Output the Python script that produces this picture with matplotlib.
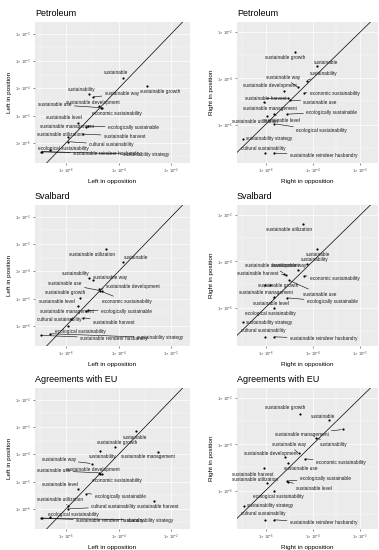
import matplotlib
matplotlib.use("Agg")
import matplotlib.pyplot as plt
from matplotlib.ticker import NullFormatter
import numpy as np

# terms shown in every panel (same order in every data list below)
TERMS = [
    "sustainable", "sustainable growth", "sustainability", "sustainable way",
    "sustainable use", "sustainable development", "economic sustainability",
    "sustainable level", "sustainable management", "ecologically sustainable",
    "sustainable utilization", "sustainable harvest", "cultural sustainability",
    "ecological sustainability", "sustainable reindeer husbandry",
    "sustainability strategy",
]

# log10 relative frequencies
petro_left_x = [-3.82, -2.92, -5.11, -4.99, -4.68, -4.75, -4.63, -5.56, -5.24, -5.15, -5.91, -5.34, -5.91, -6.61, -6.96, -6.93]
petro_left_y = [-3.62, -3.90, -4.22, -4.32, -4.71, -4.66, -4.74, -5.27, -5.41, -5.39, -5.78, -5.68, -5.96, -6.27, -6.33, -6.32]
petro_right_x = [-3.80, -4.73, -4.25, -4.61, -4.96, -5.21, -4.38, -5.62, -6.06, -5.10, -5.92, -5.03, -6.04, -5.62, -5.66, -6.96]
petro_right_y = [-3.47, -2.85, -4.09, -4.39, -4.94, -4.53, -4.62, -5.54, -5.01, -5.55, -5.65, -4.86, -7.24, -5.97, -7.24, -6.62]

sval_left_x = [-3.82, -5.47, -5.11, -4.99, -4.71, -4.75, -4.65, -5.56, -5.24, -5.15, -4.48, -5.37, -5.82, -5.91, -6.96, -6.61]
sval_left_y = [-3.65, -4.99, -4.23, -4.32, -4.71, -4.66, -4.74, -5.29, -5.44, -5.43, -3.18, -5.70, -5.76, -6.00, -6.35, -6.29]
sval_right_x = [-3.80, -5.80, -4.25, -4.63, -5.00, -5.21, -4.38, -5.62, -6.04, -5.08, -4.42, -5.13, -6.04, -5.62, -5.66, -6.96]
sval_right_y = [-3.47, -5.04, -4.10, -4.39, -4.82, -4.53, -4.62, -5.54, -5.04, -5.58, -2.37, -4.58, -7.27, -6.01, -7.27, -6.63]

eu_left_x = [-3.34, -4.14, -4.71, -5.03, -4.73, -4.71, -4.65, -5.53, -2.49, -5.24, -5.91, -2.65, -5.91, -6.61, -6.96, -6.92]
eu_left_y = [-3.16, -3.73, -3.87, -4.34, -4.68, -4.71, -4.74, -5.29, -3.91, -5.44, -5.90, -5.71, -6.00, -6.29, -6.35, -6.34]
eu_right_x = [-3.30, -4.52, -3.85, -4.59, -5.03, -5.19, -4.34, -5.04, -2.73, -5.08, -5.92, -6.06, -6.04, -5.62, -5.66, -6.93]
eu_right_y = [-2.96, -2.66, -3.71, -4.39, -4.79, -4.53, -4.62, -5.63, -3.35, -5.58, -5.68, -5.04, -7.27, -6.04, -7.27, -6.66]

# label placement (pixel offsets from the point, like ggrepel's result)
petro_left_nudge = [(-7, 5), (13, -6), (-8, 5), (29, 3), (-46, 3), (-6, 4), (15, -5), (-14, 5),
                    (-19, 0), (45, -1), (-8, 2), (41, -2), (43, -3), (13, 2), (66, -2), (105, -3)]
petro_right_nudge = [(9, 4), (-10, -6), (17, 7), (-15, 10), (30, -2), (-14, 5), (31, -1), (7, -7),
                     (6, -7), (45, 2), (-12, -5), (-23, 0), (-1, 5), (47, -7), (50, -2), (26, 0)]
sval_left_nudge = [(13, 4), (-15, 6), (-14, 4), (17, 3), (-35, 7), (34, 3), (25, -10), (-21, 5),
                   (-19, -1), (38, -1), (-14, -6), (31, -5), (-12, 0), (12, -6), (73, -3), (110, -4)]
sval_right_nudge = [(1, -5), (8, 0), (8, 4), (-9, 5), (31, -14), (-12, 8), (31, -3), (-4, -7),
                    (1, -7), (45, -4), (-14, -6), (-28, 1), (-1, 6), (-4, -6), (50, -2), (26, 0)]
eu_left_nudge = [(-1, -6), (2, 4), (3, -6), (-33, 4), (-46, 2), (-7, 4), (15, -6), (-18, 5),
                 (-10, -5), (34, -3), (-8, 7), (4, -6), (45, 2), (23, 2), (69, -2), (108, -2)]
eu_right_nudge = [(-6, 4), (-15, 6), (17, -7), (-10, 9), (12, -6), (-14, 3), (36, -4), (26, -6),
                  (-41, -5), (38, 2), (-12, 4), (-11, -6), (-1, 6), (4, -5), (50, -3), (27, 0)]

PANEL_BG = "#EBEBEB"
TICK_GREY = "#4D4D4D"

plt.rcParams.update({
    "font.family": "Liberation Sans",
    "mathtext.fontset": "custom",
    "mathtext.rm": "Liberation Sans",
    "mathtext.it": "Liberation Sans:italic",
    "axes.linewidth": 0,
})

W, H = 379, 550
fig = plt.figure(figsize=(W / 100, H / 100), dpi=100)

LEFT = dict(x0=35, w=155, xlim=(-7.18, -1.29), ylim=(-6.74, -1.57),
            yticks=[-2, -3, -4, -5, -6], yminor=[-2.5, -3.5, -4.5, -5.5, -6.5])
RIGHT = dict(x0=237, w=141, xlim=(-7.21, -1.23), ylim=(-7.67, -1.55),
             yticks=[-2, -4, -6], yminor=[-3, -5, -7])
ROW_TOP = [22, 205, 388]
PANEL_H = 141


def _sci(e):
    return r"$1\times10^{%d}$" % e


def panel(spec, row, title, xs, ys, nudge, xlabel, ylabel):
    top = ROW_TOP[row]
    ax = fig.add_axes([spec["x0"] / W, 1 - (top + PANEL_H) / H, spec["w"] / W, PANEL_H / H])
    ax.set_facecolor(PANEL_BG)
    ax.set_xscale("log")
    ax.set_yscale("log")
    ax.set_xlim(10 ** spec["xlim"][0], 10 ** spec["xlim"][1])
    ax.set_ylim(10 ** spec["ylim"][0], 10 ** spec["ylim"][1])

    xt = [-6, -4, -2]
    ax.set_xticks([10.0 ** e for e in xt])
    ax.set_xticklabels([_sci(e) for e in xt])
    ax.set_xticks([10.0 ** e for e in (-7, -5, -3)], minor=True)
    ax.set_yticks([10.0 ** e for e in spec["yticks"]])
    ax.set_yticklabels([_sci(e) for e in spec["yticks"]])
    ax.set_yticks([10.0 ** e for e in spec["yminor"]], minor=True)
    ax.xaxis.set_minor_formatter(NullFormatter())
    ax.yaxis.set_minor_formatter(NullFormatter())
    ax.tick_params(which="major", length=1.5, width=0.4, color="#333333",
                   labelsize=3.0, labelcolor=TICK_GREY, pad=1.5)
    ax.tick_params(which="minor", length=0)
    ax.grid(which="major", color="white", lw=0.5)
    ax.grid(which="minor", color="white", lw=0.25)
    ax.set_axisbelow(True)

    ax.axline((1e-6, 1e-6), (1e-2, 1e-2), color="black", lw=0.5, zorder=2)

    px = 10.0 ** np.array(xs)
    py = 10.0 ** np.array(ys)
    ax.scatter(px, py, s=2.5, color="black", zorder=4, linewidths=0)

    for term, x, y, (dx, dy) in zip(TERMS, px, py, nudge):
        half = len(term) * 1.1 + 2
        far = abs(dx) > half or abs(dy) > 6
        ax.annotate(term, (x, y), xytext=(dx, dy), textcoords="offset pixels",
                    ha="center", va="center", fontsize=3.4, color="#1a1a1a", zorder=5,
                    arrowprops=dict(arrowstyle="-", color="black", lw=0.4,
                                    shrinkA=0, shrinkB=1) if far else None,
                    annotation_clip=False)

    ax.set_title(title, loc="left", fontsize=6.5, pad=4)
    ax.set_xlabel(xlabel, fontsize=4.6, labelpad=1.5)
    ax.set_ylabel(ylabel, fontsize=4.6, labelpad=2)
    for s in ax.spines.values():
        s.set_visible(False)
    return ax


panel(LEFT, 0, "Petroleum", petro_left_x, petro_left_y, petro_left_nudge,
      "Left in opposition", "Left in position")
panel(RIGHT, 0, "Petroleum", petro_right_x, petro_right_y, petro_right_nudge,
      "Right in opposition", "Right in position")
panel(LEFT, 1, "Svalbard", sval_left_x, sval_left_y, sval_left_nudge,
      "Left in opposition", "Left in position")
panel(RIGHT, 1, "Svalbard", sval_right_x, sval_right_y, sval_right_nudge,
      "Right in opposition", "Right in position")
panel(LEFT, 2, "Agreements with EU", eu_left_x, eu_left_y, eu_left_nudge,
      "Left in opposition", "Left in position")
panel(RIGHT, 2, "Agreements with EU", eu_right_x, eu_right_y, eu_right_nudge,
      "Right in opposition", "Right in position")

fig.savefig("out.png", dpi=100, facecolor="white")
